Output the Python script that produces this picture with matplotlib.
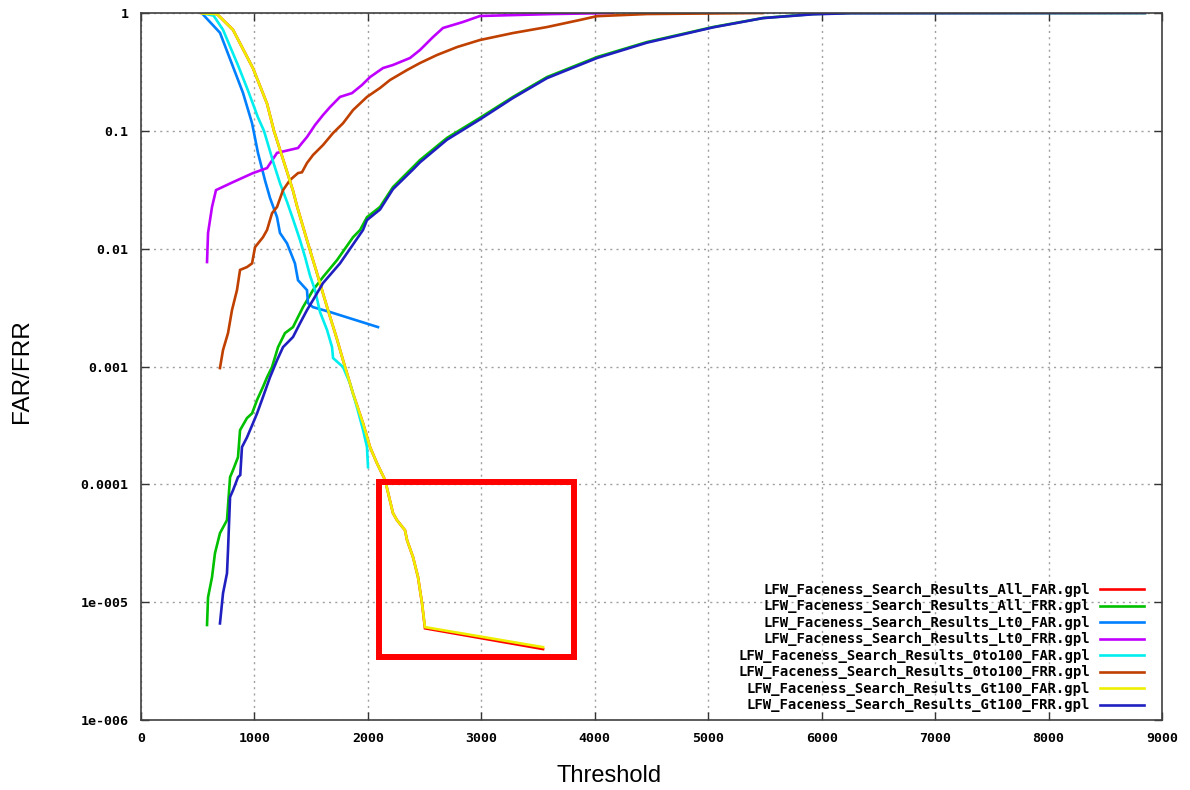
import matplotlib
matplotlib.use("Agg")
import matplotlib.pyplot as plt
from matplotlib.patches import Rectangle

# ---------------- data ----------------
all_far_x = [538, 670, 811, 987, 1111, 1172, 1287, 1340, 1375, 1463, 1551, 1640, 1728, 1781, 1869, 1957,
             2019, 2080, 2151, 2221, 2256, 2327, 2345, 2398, 2442, 2477, 2503, 3544]
all_far_y = [0.99, 0.98, 0.72, 0.34, 0.17, 0.1, 0.045, 0.031, 0.023, 0.0118, 0.0062, 0.0032, 0.0017, 0.00113,
             0.00059, 0.00033, 0.000207, 0.000151, 0.000109, 5.7e-5, 4.97e-5, 4.08e-5, 3.36e-5, 2.41e-5,
             1.63e-5, 9.8e-6, 6.0e-6, 4.0e-6]

all_frr_x = [582, 591, 626, 652, 696, 758, 785, 811, 855, 873, 934, 979, 1023, 1075, 1111, 1155, 1208, 1269,
             1340, 1384, 1428, 1516, 1604, 1728, 1869, 1931, 1992, 2107, 2221, 2398, 2459, 2697, 2988, 3279,
             3579, 4020, 4460, 5042, 5483, 5924, 6250, 8850]
all_frr_y = [6.4e-6, 1.1e-5, 1.63e-5, 2.6e-5, 3.85e-5, 4.97e-5, 1.15e-4, 1.32e-4, 1.7e-4, 2.88e-4, 3.65e-4,
             4.0e-4, 5.2e-4, 6.7e-4, 8.1e-4, 9.9e-4, 1.46e-3, 1.92e-3, 2.16e-3, 2.63e-3, 3.19e-3, 4.45e-3,
             5.74e-3, 8.0e-3, 0.0125, 0.0144, 0.0185, 0.0226, 0.0333, 0.0493, 0.0565, 0.087, 0.129, 0.194,
             0.286, 0.423, 0.567, 0.76, 0.907, 0.98, 1.0, 1.0]

lt0_far_x = [547, 696, 811, 899, 979, 1031, 1093, 1137, 1199, 1225, 1287, 1357, 1384, 1463, 1472, 1516, 1666, 2089]
lt0_far_y = [0.97, 0.68, 0.35, 0.21, 0.116, 0.065, 0.038, 0.027, 0.0185, 0.0136, 0.0111, 0.0075, 0.0054,
             0.00445, 0.00345, 0.00319, 0.0029, 0.00216]

lt0_frr_x = [582, 591, 626, 661, 811, 987, 1111, 1199, 1384, 1419, 1463, 1534, 1604, 1666, 1754, 1860, 1948,
             2019, 2133, 2221, 2371, 2459, 2574, 2662, 2838, 2988, 3279, 3632, 4161]
lt0_frr_y = [0.0077, 0.0136, 0.0226, 0.0314, 0.0367, 0.0438, 0.0483, 0.065, 0.0715, 0.0788, 0.0886, 0.112,
             0.136, 0.159, 0.194, 0.209, 0.245, 0.286, 0.341, 0.362, 0.415, 0.485, 0.625, 0.746, 0.839, 0.943,
             0.96, 0.98, 1.0]

o100_far_x = [555, 640, 723, 855, 943, 1031, 1084, 1164, 1225, 1287, 1340, 1402, 1446, 1490, 1534, 1578, 1640,
              1684, 1693, 1781, 1842, 1904, 1957, 1992, 2001]
o100_far_y = [0.99, 0.95, 0.72, 0.36, 0.22, 0.13, 0.1, 0.055, 0.036, 0.025, 0.0178, 0.0118, 0.0085, 0.0059,
              0.00445, 0.0029, 0.00204, 0.00146, 0.00118, 0.00099, 0.00072, 0.00045, 0.00029, 0.000207, 0.00014]

o100_frr_x = [696, 723, 767, 802, 846, 873, 934, 979, 1005, 1075, 1111, 1155, 1199, 1252, 1313, 1384, 1419, 1463,
              1516, 1604, 1693, 1781, 1869, 1992, 2107, 2195, 2345, 2459, 2609, 2786, 2988, 3279, 3579, 3870,
              4020, 4460, 5483]
o100_frr_y = [9.7e-4, 1.38e-3, 1.92e-3, 3.01e-3, 4.45e-3, 6.6e-3, 6.98e-3, 7.5e-3, 0.0103, 0.0125, 0.0144, 0.02,
              0.0226, 0.0314, 0.0382, 0.0438, 0.0445, 0.0533, 0.0623, 0.0757, 0.0958, 0.116, 0.150, 0.194, 0.231,
              0.27, 0.328, 0.376, 0.44, 0.514, 0.59, 0.676, 0.76, 0.873, 0.94, 0.98, 1.0]

gt100_far_x = list(all_far_x)
gt100_far_y = [0.99, 0.98, 0.72, 0.34, 0.17, 0.1, 0.045, 0.031, 0.023, 0.0118, 0.0062, 0.0032, 0.0017, 0.00113,
               0.00059, 0.00033, 0.000207, 0.000151, 0.000109, 5.7e-5, 4.97e-5, 4.08e-5, 3.36e-5, 2.41e-5,
               1.63e-5, 9.8e-6, 6.14e-6, 4.15e-6]

gt100_frr_x = [696, 723, 758, 767, 785, 811, 855, 875, 890, 934, 987, 1023, 1075, 1137, 1199, 1252, 1340, 1402,
               1463, 1516, 1604, 1754, 1957, 1992, 2107, 2221, 2398, 2459, 2697, 2988, 3279, 3579, 4020, 4460,
               5042, 5483, 5924, 6250, 8850]
gt100_frr_y = [6.6e-6, 1.19e-5, 1.76e-5, 2.76e-5, 7.8e-5, 8.9e-5, 1.15e-4, 1.2e-4, 2.07e-4, 2.5e-4, 3.3e-4,
               4.0e-4, 5.5e-4, 8.1e-4, 1.13e-3, 1.46e-3, 1.78e-3, 2.33e-3, 3.01e-3, 3.66e-3, 5.1e-3, 7.5e-3,
               0.0144, 0.0175, 0.0215, 0.032, 0.047, 0.054, 0.084, 0.125, 0.19, 0.28, 0.415, 0.56, 0.755, 0.905,
               0.975, 0.995, 1.0]

series_labels = [
    "LFW_Faceness_Search_Results_All_FAR.gpl",
    "LFW_Faceness_Search_Results_All_FRR.gpl",
    "LFW_Faceness_Search_Results_Lt0_FAR.gpl",
    "LFW_Faceness_Search_Results_Lt0_FRR.gpl",
    "LFW_Faceness_Search_Results_0to100_FAR.gpl",
    "LFW_Faceness_Search_Results_0to100_FRR.gpl",
    "LFW_Faceness_Search_Results_Gt100_FAR.gpl",
    "LFW_Faceness_Search_Results_Gt100_FRR.gpl",
]
series_colors = ["#ff0000", "#00c000", "#0080ff", "#c000ff", "#00eeee", "#c04000", "#eeee00", "#2020c0"]

x_ticks = [0, 1000, 2000, 3000, 4000, 5000, 6000, 7000, 8000, 9000]
y_ticks = [1e-6, 1e-5, 1e-4, 1e-3, 1e-2, 1e-1, 1]
y_tick_labels = ["1e-006", "1e-005", "0.0001", "0.001", "0.01", "0.1", "1"]

# ---------------- plot ----------------
fig = plt.figure(figsize=(11.9, 7.9), dpi=100)
ax = fig.add_axes([141 / 1190, 1 - 720 / 790, (1162 - 141) / 1190, (720 - 13) / 790])

xs = [all_far_x, all_frr_x, lt0_far_x, lt0_frr_x, o100_far_x, o100_frr_x, gt100_far_x, gt100_frr_x]
ys = [all_far_y, all_frr_y, lt0_far_y, lt0_frr_y, o100_far_y, o100_frr_y, gt100_far_y, gt100_frr_y]
for x, y, lab, col in zip(xs, ys, series_labels, series_colors):
    ax.plot(x, y, color=col, lw=1.9, label=lab, solid_joinstyle="miter")

ax.set_yscale("log")
ax.set_xlim(0, 9000)
ax.set_ylim(1e-6, 1)
ax.set_xticks(x_ticks)
ax.set_xticklabels([str(t) for t in x_ticks])
ax.set_yticks(y_ticks)
ax.set_yticklabels(y_tick_labels)
ax.yaxis.set_minor_locator(matplotlib.ticker.NullLocator())
ax.xaxis.set_minor_locator(matplotlib.ticker.NullLocator())

for lbl in ax.get_xticklabels() + ax.get_yticklabels():
    lbl.set_fontfamily("DejaVu Sans Mono")
    lbl.set_fontweight("bold")
    lbl.set_fontsize(9.5)

ax.tick_params(axis="both", which="major", direction="in", length=6, width=1,
               top=True, right=True, color="#333333")
ax.tick_params(axis="y", pad=9)
ax.tick_params(axis="x", pad=9)
ax.grid(True, which="major", color="#a0a0a0", linestyle=(0, (1.5, 3)), lw=1)
for sp in ax.spines.values():
    sp.set_color("#404040")
    sp.set_linewidth(1.2)

# red highlight box
ax.add_patch(Rectangle((2098, 3.45e-6), 3821 - 2098, 1.044e-4 - 3.45e-6, fill=False,
                       edgecolor="#ff0000", lw=4.3, zorder=5))

leg = ax.legend(loc="lower right", bbox_to_anchor=(0.991, -0.001), frameon=False, markerfirst=False,
                prop=dict(family="DejaVu Sans Mono", weight="bold", size=10),
                handlelength=3.2, handletextpad=0.7, labelspacing=0.18, borderaxespad=0.2)

fig.text(609 / 1190, 1 - 776 / 790, "Threshold", ha="center", va="center",
         fontsize=17, family="Liberation Sans")
fig.text(22 / 1190, 1 - 371 / 790, "FAR/FRR", ha="center", va="center", rotation=90,
         fontsize=17.5, family="Liberation Sans")

fig.savefig("out.png", dpi=100)
